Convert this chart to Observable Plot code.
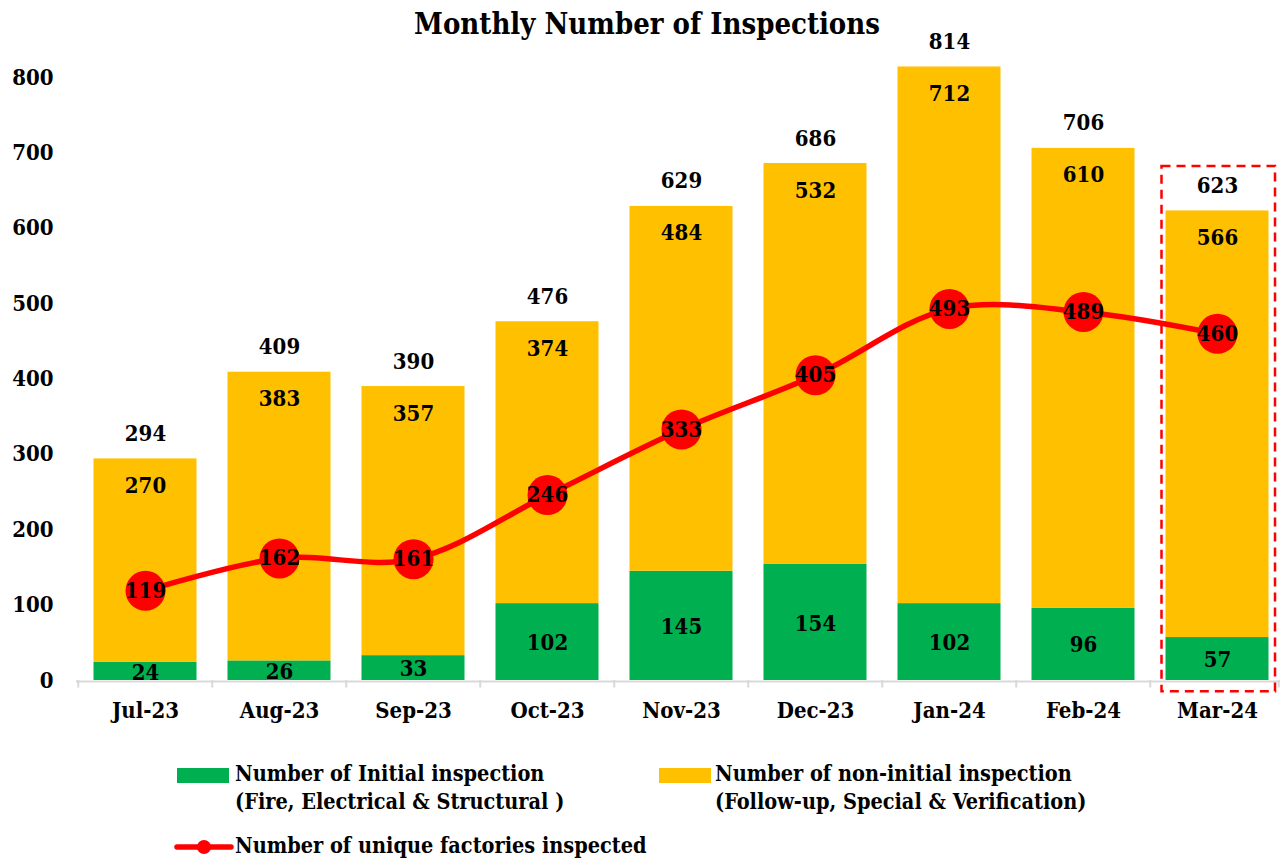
<!DOCTYPE html>
<html>
<head>
<meta charset="utf-8">
<script src="https://cdn.jsdelivr.net/npm/d3@7"></script>
<script src="https://cdn.jsdelivr.net/npm/@observablehq/plot@0.6"></script>
<style>
  html, body { margin: 0; padding: 0; background: #fff; }
  #wrap { position: relative; width: 1280px; height: 861px; overflow: hidden;
    font-family: "DejaVu Serif Condensed", "DejaVu Serif", serif; font-stretch: condensed; font-weight: bold; color: #000; }
  #title { position: absolute; left: 0; width: 1294px; top: 6px; text-align: center; font-size: 29px; line-height: 36px; }
  #chart { position: absolute; left: 0; top: 0; }
  .leg { position: absolute; font-size: 21.5px; line-height: 28px; }
  .sw { position: absolute; }
</style>
</head>
<body>
<div id="wrap">
  <div id="chart"></div>
  <div id="title">Monthly Number of Inspections</div>
  <div id="legend"></div>
</div>
<script>
const months = ["Jul-23","Aug-23","Sep-23","Oct-23","Nov-23","Dec-23","Jan-24","Feb-24","Mar-24"];
const initialInspections = [24, 26, 33, 102, 145, 154, 102, 96, 57];
const nonInitialInspections = [270, 383, 357, 374, 484, 532, 712, 610, 566];
const totalInspections = [294, 409, 390, 476, 629, 686, 814, 706, 623];
const uniqueFactories = [119, 162, 161, 246, 333, 405, 493, 489, 460];
const yTicks = [0, 100, 200, 300, 400, 500, 600, 700, 800];
const highlightMonth = "Mar-24";
const seriesNames = {
  initial: ["Number of Initial inspection", "(Fire, Electrical & Structural )"],
  nonInitial: ["Number of non-initial inspection", "(Follow-up, Special & Verification)"],
  unique: ["Number of unique factories inspected"]
};
const colors = { initial: "#00B050", nonInitial: "#FFC000", line: "#FF0000", axis: "#D9D9D9" };

const stacked = [];
months.forEach((m, i) => {
  stacked.push({ month: m, series: "initial", value: initialInspections[i] });
  stacked.push({ month: m, series: "nonInitial", value: nonInitialInspections[i] });
});
const rows = months.map((m, i) => ({
  month: m, initial: initialInspections[i], nonInitial: nonInitialInspections[i],
  total: totalInspections[i], unique: uniqueFactories[i]
}));

const font = '"DejaVu Serif Condensed", "DejaVu Serif", serif';
const inset = 15.5;
const halfStep = 67.25;

const chart = Plot.plot({
  width: 1280,
  height: 730,
  marginTop: 30,
  marginBottom: 50,
  marginLeft: 76,
  marginRight: 0,
  style: { fontFamily: font, fontSize: "22px", fontWeight: "bold", color: "#000", overflow: "visible", fontStretch: "condensed" },
  x: { type: "band", domain: months, range: [75.75, 1286], padding: 0, label: null },
  y: { domain: [0, 862.4], label: null },
  marks: [
    Plot.barY(stacked, {
      x: "month", y: "value", z: "series",
      order: ["initial", "nonInitial"],
      fill: d => colors[d.series],
      insetLeft: inset, insetRight: inset
    }),
    // x axis line and ticks
    Plot.ruleY([0], { stroke: colors.axis, strokeWidth: 2, dy: 1 }),
    Plot.ruleX(months, { x: d => d, dx: -halfStep, y1: 0, y2: -10, stroke: colors.axis, strokeWidth: 2 }),
    Plot.ruleX([months[months.length - 1]], { x: d => d, dx: halfStep - 6, y1: 0, y2: -10, stroke: colors.axis, strokeWidth: 2 }),
    // highlight box
    Plot.barY([highlightMonth], {
      x: d => d, y1: -15, y2: 682,
      fill: "none", stroke: colors.line, strokeWidth: 2.5, strokeDasharray: "9,6",
      insetLeft: 11.5, insetRight: 9
    }),
    // labels
    Plot.text(rows, { x: "month", y: "total", text: d => String(d.total), dy: -25, fill: "#000" }),
    Plot.text(rows, { x: "month", y: "total", text: d => String(d.nonInitial), dy: 27, fill: "#000" }),
    Plot.text(rows, { x: "month", y: d => d.initial / 2, text: d => String(d.initial), dy: 1, fill: "#000" }),
    // line
    Plot.line(rows, { x: "month", y: "unique", stroke: colors.line, strokeWidth: 5.5, curve: "catmull-rom" }),
    Plot.dot(rows, { x: "month", y: "unique", r: 20, fill: colors.line, stroke: "none" }),
    Plot.text(rows, { x: "month", y: "unique", text: d => String(d.unique), fill: "#000" }),
    Plot.axisY({ ticks: yTicks, tickSize: 0, tickPadding: 23, tickFormat: d => String(d), fontSize: 22 }),
    Plot.axisX({ tickSize: 0, tickPadding: 22, fontSize: 22 })
  ]
});
document.getElementById("chart").appendChild(chart);

// Legend (HTML)
const legend = document.getElementById("legend");
function addText(x, y, lines) {
  const d = document.createElement("div");
  d.className = "leg";
  d.style.left = x + "px";
  d.style.top = y + "px";
  lines.forEach((l, i) => { if (i) d.appendChild(document.createElement("br")); d.appendChild(document.createTextNode(l)); });
  legend.appendChild(d);
}
function addRect(x, y, w, h, c) {
  const s = document.createElement("div");
  s.className = "sw";
  Object.assign(s.style, { left: x + "px", top: y + "px", width: w + "px", height: h + "px", background: c });
  legend.appendChild(s);
}
addRect(177, 768, 52, 15, colors.initial);
addText(235, 760, seriesNames.initial);
addRect(659, 768, 52, 15, colors.nonInitial);
addText(715, 760, seriesNames.nonInitial);
const ns = "http://www.w3.org/2000/svg";
const svg = document.createElementNS(ns, "svg");
svg.setAttribute("width", 60); svg.setAttribute("height", 20);
Object.assign(svg.style, { position: "absolute", left: "174px", top: "837px" });
const ln = document.createElementNS(ns, "line");
ln.setAttribute("x1", 3); ln.setAttribute("x2", 57); ln.setAttribute("y1", 10); ln.setAttribute("y2", 10);
ln.setAttribute("stroke", colors.line); ln.setAttribute("stroke-width", 5.5); ln.setAttribute("stroke-linecap", "round");
svg.appendChild(ln);
const ci = document.createElementNS(ns, "circle");
ci.setAttribute("cx", 30); ci.setAttribute("cy", 10); ci.setAttribute("r", 7); ci.setAttribute("fill", colors.line);
svg.appendChild(ci);
legend.appendChild(svg);
addText(235, 832, seriesNames.unique);
</script>
</body>
</html>
